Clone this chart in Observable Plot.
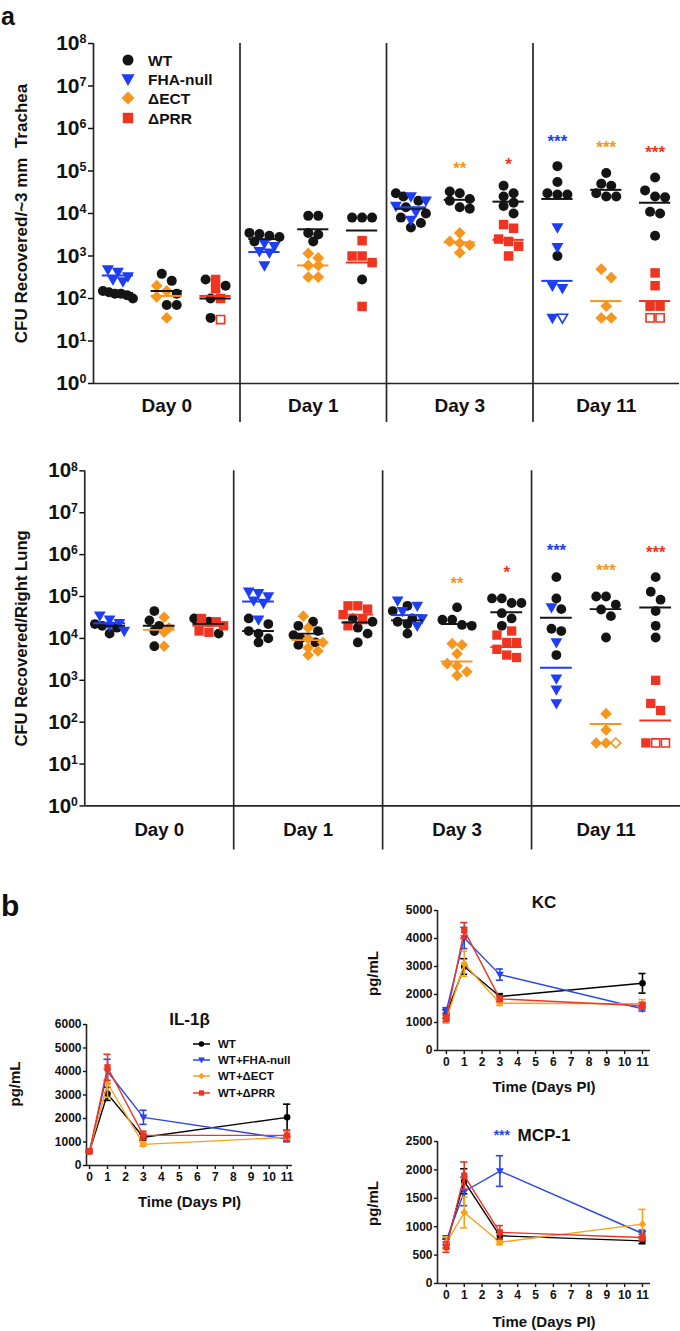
<!DOCTYPE html>
<html><head><meta charset="utf-8">
<script src="https://cdn.jsdelivr.net/npm/d3@7"></script>
<script src="https://cdn.jsdelivr.net/npm/@observablehq/plot@0.6"></script>
<style>
html,body{margin:0;padding:0;background:#fff;overflow:hidden}
#root{position:relative;width:680px;height:1331px;overflow:hidden;font-family:"Liberation Sans",Arial,Helvetica,sans-serif;font-weight:bold;color:#111}
</style></head><body><div id="root"></div>
<script>
// ---------- Panel a data ----------
const dayLabels = ["Day 0","Day 1","Day 3","Day 11"];
const legendNames = ["WT","FHA-null","ΔECT","ΔPRR"];
const logTicks = [1,10,100,1e3,1e4,1e5,1e6,1e7,1e8];

// [day][group][values]; group 0 = with FHA-null, 1 = with ΔECT, 2 = with ΔPRR
const tracheaWT = [
  [[150,140,130,130,100,120],[380,260,130,70,70],[280,200,100,35]],
  [[3500,3300,3000,2800,2200],[8800,8800,3500,3200,2200],[8000,8000,8000,280]],
  [[30000,25000,20000,14000,10000,8000,6000,4700],[33000,30000,22000,20000,14000,13000],[45000,30000,25000,18000,15000,10000]],
  [[130000,55000,30000,28000,28000,1000],[90000,50000,45000,30000,25000,25000],[70000,35000,25000,24000,11000,10000,3000]]
];
const tracheaMut = [
  [[480,420,330,280,250],[200,150,110,35],[280,170,100]],
  [[2000,1700,1300,1200,600],[1150,900,600,600,320,320],[2300,1000,1000,700,65]],
  [[25000,20000,15000,11000,7000],[3500,2200,2000,1800,1200],[5500,4500,2500,2200,1700,1000]],
  [[4700,1600,200,175,35],[490,310,66,35,35],[400,200,66,66]]
];
const tracheaMutOpen = [[[],[],[32]],[[],[],[]],[[],[],[]],[[35],[],[35,35]]];
const tracheaWTMean = [[135,150,100],[2500,4250,4000],[13000,21000,19000],[22000,36000,18000]];
const tracheaMutMean = [[350,115,115],[1240,600,700],[14000,2100,2400],[260,87,87]];
const tracheaStarText = ["**","*","***","***","***"];
const tracheaStarDay = [2,2,3,3,3];
const tracheaStarGroup = [1,2,0,1,2];
const tracheaStarY = [1.5e5,1.9e5,6.5e5,4.7e5,3.5e5];

const lungWT = [
  [[22000,20000,18000,13000],[45000,27000,20000,15000,6500],[30000,25000,13000]],
  [[30000,22000,15000,13000,10000,8000],[25000,20000,15000,12000,10000,8000,7000],[30000,25000,18000,13000,8000]],
  [[60000,45000,30000,25000,22000,13000],[55000,28000,28000,21000,20000],[90000,90000,70000,70000,40000,30000,20000]],
  [[290000,90000,50000,17000,15000,4000],[100000,100000,64000,49000,34000,10500],[290000,130000,84000,45000,20000,10500]]
];
const lungMut = [
  [[35000,28000,23000,20000,15000],[32000,18000,14000,6500],[30000,25000,20000,15000,14000]],
  [[130000,120000,100000,80000,70000,28000],[34000,18000,10000,8000,6000,5000,4000],[60000,60000,50000,37000,28000,20000]],
  [[80000,60000,45000,30000,20000],[7500,7000,4300,2500,2200,1600,1300],[15000,12000,8000,8000,5500,4000,3500]],
  [[55000,8000,1100,600,280],[160,65,32,32],[1000,280,190,32]]
];
const lungMutOpen = [[[],[],[]],[[],[],[]],[[],[],[]],[[],[32],[32,32]]];
const lungWTMean = [[20000,20000,22000],[15000,13000,24000],[27000,22000,42000],[31000,50000,55000]];
const lungMutMean = [[23000,16000,20000],[76000,9100,37000],[36000,2800,6200],[2000,90,110]];
const lungStarText = ["**","*","***","***","***"];
const lungStarDay = [2,2,3,3,3];
const lungStarGroup = [1,2,0,1,2];
const lungStarY = [2.7e5,4.8e5,1.6e6,5.4e5,1.5e6];

// ---------- Panel b data ----------
const cytoDays = [0,1,3,11];
const cytoSeries = ["WT","WT+FHA-null","WT+ΔECT","WT+ΔPRR"];
const il1bWT = [600,3050,1200,2050],  il1bWTErr = [40,280,130,560];
const il1bFHA = [600,4000,2050,1130], il1bFHAErr = [40,520,300,120];
const il1bECT = [600,3500,900,1200],  il1bECTErr = [40,600,80,100];
const il1bPRR = [600,4180,1280,1280], il1bPRRErr = [40,550,180,220];
const kcWT = [1300,3000,1930,2400],  kcWTErr = [150,280,100,350];
const kcFHA = [1430,4020,2710,1490], kcFHAErr = [100,380,200,80];
const kcECT = [1100,3100,1690,1670], kcECTErr = [120,450,80,150];
const kcPRR = [1150,4290,1845,1600], kcPRRErr = [120,280,100,120];
const mcpWT = [700,1800,840,750],   mcpWTErr = [80,220,60,50];
const mcpFHA = [760,1620,1980,880], mcpFHAErr = [80,250,270,60];
const mcpECT = [720,1250,725,1045], mcpECTErr = [100,270,40,260];
const mcpPRR = [640,1900,900,810],  mcpPRRErr = [90,240,120,60];

// ---------- styles ----------
const colors = ["#141414","#1d3ef2","#f7961e","#ef3421"];
const lineColors = ["#000000","#2a45e8","#f8a21c","#ee3524"];
const FONT = '"Liberation Sans", Arial, Helvetica, sans-serif';

const triDown = {draw(ctx, size){const r=Math.sqrt(size/Math.PI);const w=r*1.2;ctx.moveTo(-w,-r*0.85);ctx.lineTo(w,-r*0.85);ctx.lineTo(0,r*1.25);ctx.closePath();}};
const diamondS = {draw(ctx, size){const r=Math.sqrt(size/Math.PI)*1.18;ctx.moveTo(0,-r);ctx.lineTo(r,0);ctx.lineTo(0,r);ctx.lineTo(-r,0);ctx.closePath();}};
const squareS = {draw(ctx, size){const r=Math.sqrt(size/Math.PI)*0.95;ctx.rect(-r,-r,2*r,2*r);}};
const mutSymbols = [triDown, diamondS, squareS];
const cytoSymbols = ["circle", triDown, diamondS, squareS];

const root = document.getElementById("root");
function place(el, left, top){
  el.style.position = "absolute"; el.style.left = left+"px"; el.style.top = top+"px";
  root.appendChild(el);
}

function makePoints(wt, mut, mutOpen, pxPerUnit, pxPerDecade, diam){
  const pts = [];
  wt.forEach((dayArr, d) => dayArr.forEach((_, g) => {
    const center = d*3 + g + 0.5;
    const items = [];
    wt[d][g].forEach(v => items.push({v, series:"wt", g, open:false}));
    mut[d][g].forEach(v => items.push({v, series:"mut", g, open:false}));
    mutOpen[d][g].forEach(v => items.push({v, series:"mut", g, open:true}));
    items.sort((a,b) => b.v - a.v);
    const rows = [];
    for (const it of items){
      it.py = -Math.log10(it.v)*pxPerDecade;
      const row = rows[rows.length-1];
      if (row && Math.abs(it.py - row[0].py) < diam*0.85) row.push(it); else rows.push([it]);
    }
    for (const row of rows){
      const n = row.length;
      const sp = n > 1 ? Math.min(diam, 30/(n-1)) : 0;
      row.forEach((p,i) => { p.x = center + (i-(n-1)/2)*sp/pxPerUnit; pts.push(p); });
    }
  }));
  return pts;
}
function makeMeans(means){
  return means.flatMap((arr,d) => arr.map((v,g) => ({v, x:d*3+g+0.5, g})));
}

function superscriptTicks(svg){
  svg.querySelectorAll('g[aria-label="y-axis tick label"] text').forEach(t => {
    const s = t.textContent;
    if (!s.includes("^")) return;
    const [b,e] = s.split("^");
    t.textContent = b;
    const ts = document.createElementNS("http://www.w3.org/2000/svg","tspan");
    ts.setAttribute("font-size","12.5");
    ts.setAttribute("dy","-7");
    ts.textContent = e;
    t.appendChild(ts);
  });
}

function scatterPanel(o){
  const pxPerUnit = o.sectionPx/3;
  const pxPerDecade = (o.height - o.marginTop - o.marginBottom)/8;
  const pts = makePoints(o.wt, o.mut, o.mutOpen, pxPerUnit, pxPerDecade, 10);
  const wtM = makeMeans(o.wtMean), mutM = makeMeans(o.mutMean);
  const stars = o.starText.map((t,i) => ({t, x:o.starDay[i]*3+o.starGroup[i]+0.5, y:o.starY[i], g:o.starGroup[i]}));
  const axisStroke = {stroke:"#262626", strokeWidth:1.7};
  const marks = [
    Plot.axisY({ticks: logTicks, tickFormat: d => "10^" + Math.round(Math.log10(d)), tickSize:5, tickPadding:2, fontSize:21, strokeWidth:1.5, label:null}),
    Plot.axisX({ticks:[1.5,4.5,7.5,10.5], tickFormat: d => dayLabels[Math.round((d-1.5)/3)], tickSize:0, tickPadding:o.dayPad, fontSize:19, label:null}),
    Plot.dot(pts.filter(p => p.series==="wt"), {x:"x", y:"v", r:5, fill:colors[0], symbol:"circle"}),
    ...[0,1,2].map(g => Plot.dot(pts.filter(p => p.series==="mut" && p.g===g && !p.open), {x:"x", y:"v", r:5, fill:colors[g+1], symbol:mutSymbols[g]})),
    ...[0,1,2].map(g => Plot.dot(pts.filter(p => p.series==="mut" && p.g===g && p.open), {x:"x", y:"v", r:4.3, fill:"white", stroke:colors[g+1], strokeWidth:1.6, symbol:mutSymbols[g]})),
    Plot.ruleY(wtM, {y:"v", x1:d => d.x-0.32, x2:d => d.x+0.32, stroke:colors[0], strokeWidth:2}),
    ...[0,1,2].map(g => Plot.ruleY(mutM.filter(d => d.g===g), {y:"v", x1:d => d.x-0.32, x2:d => d.x+0.32, stroke:colors[g+1], strokeWidth:2})),
    ...[0,1,2].map(g => Plot.text(stars.filter(s => s.g===g), {x:"x", y:"y", text:"t", fill:colors[g+1], fontSize:17, fontWeight:"bold", dy:5})),
    Plot.ruleX([0], axisStroke),
    Plot.ruleY([1], axisStroke),
    Plot.ruleX([3,6,9], {...axisStroke, insetBottom:-o.sepExtend}),
    Plot.text([o.ylabel], {text:d => d, frameAnchor:"left", textAnchor:"middle", lineAnchor:"middle", rotate:-90, dx:o.ylabDx, fontSize:17, fontWeight:"bold"})
  ];
  const svg = Plot.plot({
    width:o.width, height:o.height,
    marginTop:o.marginTop, marginBottom:o.marginBottom, marginLeft:o.marginLeft, marginRight:o.marginRight,
    x:{domain:[0,12], axis:null},
    y:{type:"log", domain:[1,1e8], axis:null},
    style:{fontFamily:FONT, fontWeight:"bold", fontSize:"17px", color:"#111", background:"transparent", overflow:"visible"},
    marks
  });
  superscriptTicks(svg);
  return svg;
}

place(scatterPanel({
  wt:tracheaWT, mut:tracheaMut, mutOpen:tracheaMutOpen, wtMean:tracheaWTMean, mutMean:tracheaMutMean,
  starText:tracheaStarText, starDay:tracheaStarDay, starGroup:tracheaStarGroup, starY:tracheaStarY,
  width:680, height:430, marginTop:43, marginBottom:47, marginLeft:93, marginRight:1, sectionPx:146.5,
  sepExtend:39, dayPad:15, ylabDx:-72, ylabel:"CFU Recovered/~3 mm  Trachea"
}), 0, 0);

place(scatterPanel({
  wt:lungWT, mut:lungMut, mutOpen:lungMutOpen, wtMean:lungWTMean, mutMean:lungMutMean,
  starText:lungStarText, starDay:lungStarDay, starGroup:lungStarGroup, starY:lungStarY,
  width:694, height:420, marginTop:31, marginBottom:47, marginLeft:86, marginRight:0, sectionPx:152,
  sepExtend:45, dayPad:17, ylabDx:-64, ylabel:"CFU Recovered/Right Lung"
}), 0, 440);

function cytoPanel(o){
  const series = o.values.map((vals,k) => cytoDays.map((day,i) => ({day, v:vals[i], e:o.errs[k][i]})));
  const marks = [
    Plot.axisY({ticks:d3.range(0, o.yMax+1, o.yStep), tickFormat:d3.format("d"), tickSize:3, tickPadding:2, fontSize:12, strokeWidth:1.4, label:null}),
    Plot.axisX({ticks:d3.range(0,12), tickFormat:d3.format("d"), tickSize:4, tickPadding:3, fontSize:12, strokeWidth:1.4, label:null}),
    Plot.ruleX([o.xDomain[0]], {stroke:"#262626", strokeWidth:1.6}),
    Plot.ruleY([0], {stroke:"#262626", strokeWidth:1.6})
  ];
  series.forEach((rows,k) => {
    const c = lineColors[k];
    marks.push(
      Plot.line(rows, {x:"day", y:"v", stroke:c, strokeWidth:1.4}),
      Plot.ruleX(rows, {x:"day", y1:d => d.v-d.e, y2:d => d.v+d.e, stroke:c, strokeWidth:1.6}),
      Plot.ruleY(rows, {y:d => d.v+d.e, x1:d => d.day-0.2, x2:d => d.day+0.2, stroke:c, strokeWidth:1.6}),
      Plot.ruleY(rows, {y:d => d.v-d.e, x1:d => d.day-0.2, x2:d => d.day+0.2, stroke:c, strokeWidth:1.6}),
      Plot.dot(rows, {x:"day", y:"v", r:3.3, fill:c, symbol:cytoSymbols[k]})
    );
  });
  marks.push(
    Plot.text([o.title], {text:d => d, frameAnchor:"top", lineAnchor:"middle", dy:o.titleDy, fontSize:17, fontWeight:"bold"}),
    Plot.text(["pg/mL"], {text:d => d, frameAnchor:"left", textAnchor:"middle", lineAnchor:"middle", rotate:-90, dx:o.ylabDx, dy:o.ylabDy, fontSize:15, fontWeight:"bold"}),
    Plot.text(["Time (Days PI)"], {text:d => d, frameAnchor:"bottom", lineAnchor:"middle", dy:o.xlabDy, fontSize:15, fontWeight:"bold"})
  );
  if (o.titleStars) marks.push(Plot.text([o.titleStars], {text:d => d, frameAnchor:"top", lineAnchor:"middle", dy:o.titleDy, dx:-34, textAnchor:"end", fill:lineColors[1], fontSize:14, fontWeight:"bold"}));
  return Plot.plot({
    width:o.width, height:o.height,
    marginTop:o.mt, marginBottom:o.mb, marginLeft:o.ml, marginRight:o.mr,
    x:{domain:o.xDomain, axis:null},
    y:{domain:[0,o.yMax], axis:null},
    style:{fontFamily:FONT, fontWeight:"bold", fontSize:"12px", color:"#111", background:"transparent", overflow:"visible"},
    marks
  });
}

place(cytoPanel({
  values:[il1bWT,il1bFHA,il1bECT,il1bPRR], errs:[il1bWTErr,il1bFHAErr,il1bECTErr,il1bPRRErr],
  yMax:6000, yStep:1000, width:340, height:220, mt:24, mb:55, ml:86, mr:48, xDomain:[-0.17,11.3],
  title:"IL-1β", titleDy:-5, ylabDx:-71, ylabDy:-11, xlabDy:37
}), 0, 1000);

place(cytoPanel({
  values:[kcWT,kcFHA,kcECT,kcPRR], errs:[kcWTErr,kcFHAErr,kcECTErr,kcPRRErr],
  yMax:5000, yStep:1000, width:340, height:230, mt:30, mb:60, ml:97, mr:30, xDomain:[-0.5,11.45],
  title:"KC", titleDy:-8, ylabDx:-64, ylabDy:-7, xlabDy:37
}), 340, 880);

place(cytoPanel({
  values:[mcpWT,mcpFHA,mcpECT,mcpPRR], errs:[mcpWTErr,mcpFHAErr,mcpECTErr,mcpPRRErr],
  yMax:2500, yStep:500, width:340, height:221, mt:31, mb:48, ml:97, mr:30, xDomain:[-0.5,11.45],
  title:"MCP-1", titleStars:"***", titleDy:-6, ylabDx:-64, ylabDy:-9, xlabDy:39
}), 340, 1110);

// ---------- overlay: panel letters and legends ----------
function sym(kind, cx, cy, r, fill){
  if (kind === 0) return `<circle cx="${cx}" cy="${cy}" r="${r}" fill="${fill}"/>`;
  if (kind === 1) return `<polygon points="${cx-1.2*r},${cy-0.85*r} ${cx+1.2*r},${cy-0.85*r} ${cx},${cy+1.25*r}" fill="${fill}"/>`;
  if (kind === 2) { const q = r*1.18; return `<polygon points="${cx},${cy-q} ${cx+q},${cy} ${cx},${cy+q} ${cx-q},${cy}" fill="${fill}"/>`; }
  const q = r*0.95; return `<rect x="${cx-q}" y="${cy-q}" width="${2*q}" height="${2*q}" fill="${fill}"/>`;
}
let ov = `<svg xmlns="http://www.w3.org/2000/svg" width="680" height="1331" style="font-family:${FONT.replace(/"/g,"'")};font-weight:bold">`;
ov += `<text x="1" y="25" font-size="25" fill="#111">a</text>`;
ov += `<text x="1" y="916" font-size="30" fill="#111">b</text>`;
const legY = [60,79,98,118];
legendNames.forEach((n,i) => {
  ov += sym(i, 128, legY[i], 5.5, colors[i]);
  ov += `<text x="148" y="${legY[i]+5.5}" font-size="15.5" fill="#111">${n}</text>`;
});
const legY2 = [1044,1060,1076,1093];
cytoSeries.forEach((n,i) => {
  ov += `<line x1="193" x2="210" y1="${legY2[i]}" y2="${legY2[i]}" stroke="${lineColors[i]}" stroke-width="1.5"/>`;
  ov += sym(i, 201.5, legY2[i], 2.8, lineColors[i]);
  ov += `<text x="218" y="${legY2[i]+4}" font-size="11.5" fill="#111">${n}</text>`;
});
ov += `</svg>`;
const ovDiv = document.createElement("div");
ovDiv.innerHTML = ov;
ovDiv.style.pointerEvents = "none";
place(ovDiv, 0, 0);
</script></body></html>
